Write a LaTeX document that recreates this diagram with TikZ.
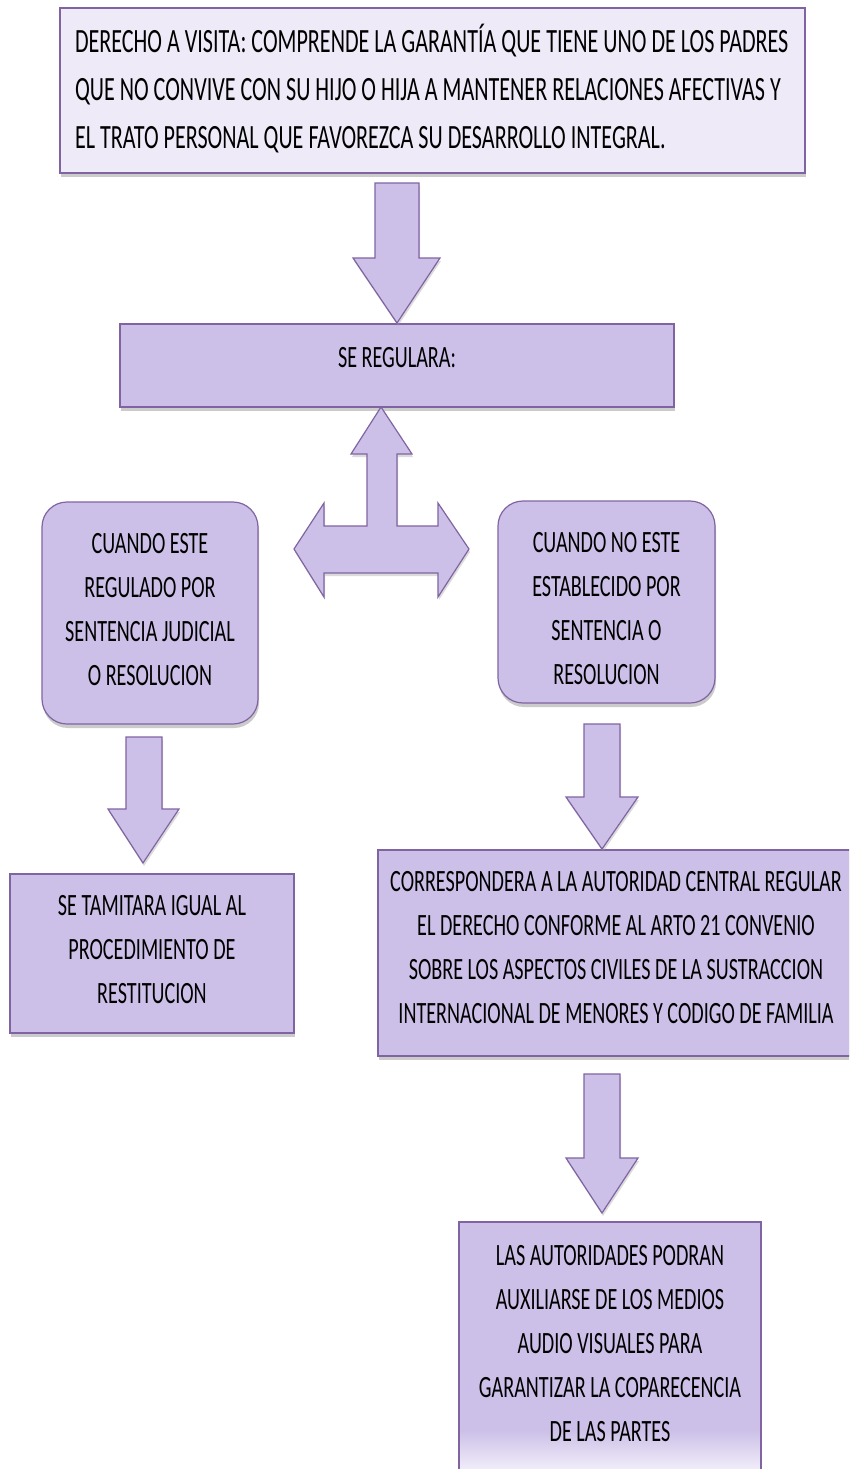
\documentclass[tikz,border=0pt]{standalone}
\usepackage{fontspec}
\setmainfont[FakeStretch=0.65]{Carlito}
\usetikzlibrary{shadows}

\definecolor{boxline}{RGB}{128,100,162}
\definecolor{boxfill}{RGB}{204,192,232}
\definecolor{topfill}{RGB}{239,234,248}
\colorlet{fadefill}{topfill!50!white}
\pgfdeclareverticalshading{boxfade}{100bp}{color(0bp)=(fadefill); color(25bp)=(fadefill);
    color(34bp)=(boxfill); color(100bp)=(boxfill)}

\begin{document}
\begin{tikzpicture}[x=1pt, y=-1pt]
        \tikzstyle{plain-box}=[draw=boxline, line width=1.2pt, fill=boxfill, inner sep=0pt, align=flush center,
            font=\fontsize{31}{44}\selectfont,
            drop shadow={shadow xshift=1pt, shadow yshift=-4pt, fill=black!45, opacity=.45}]
        \tikzstyle{round-box}=[plain-box, rounded corners=25pt]
        \tikzstyle{head-box}=[plain-box, fill=topfill, align=flush left, font=\fontsize{34}{48}\selectfont]
        \tikzstyle{block-arrow}=[draw=boxline, line width=1.2pt, fill=boxfill, line join=miter,
            drop shadow={shadow xshift=1pt, shadow yshift=-3pt, fill=black!40, opacity=.35}]

        \clip (0, 0) rectangle (849, 1469);
        \fill[white] (0, 0) rectangle (849, 1469);

        % \draw (0, 0) grid[step=100] (849, 1469);
        \node[head-box, minimum width=745, minimum height=165, text width=715, text depth=104] (visita) at (432.5, 90.5)
        {DERECHO A VISITA: COMPRENDE LA GARANTÍA QUE TIENE UNO DE LOS PADRES\\
         QUE NO CONVIVE CON SU HIJO O HIJA A MANTENER RELACIONES AFECTIVAS Y\\
         EL TRATO PERSONAL QUE FAVOREZCA SU DESARROLLO INTEGRAL.};
        \node[plain-box, minimum width=554, minimum height=83, text depth=16] (regulara) at (397, 365.5)
        {SE REGULARA:};
        \node[round-box, minimum width=216, minimum height=222, text width=210, text depth=139] (regulado) at (150, 613)
        {CUANDO ESTE\\ REGULADO POR\\ SENTENCIA JUDICIAL\\ O RESOLUCION};
        \node[round-box, minimum width=217, minimum height=202, text width=210, text depth=119] (noregulado) at (606.5, 602)
        {CUANDO NO ESTE\\ ESTABLECIDO POR\\ SENTENCIA O\\ RESOLUCION};
        \node[plain-box, minimum width=284, minimum height=159, text width=278, text depth=96] (tramite) at (152, 953.5)
        {SE TAMITARA IGUAL AL\\ PROCEDIMIENTO DE\\ RESTITUCION};
        \node[plain-box, minimum width=476, minimum height=206, text width=470, text depth=143] (autoridad) at (616, 953)
        {CORRESPONDERA A LA AUTORIDAD CENTRAL REGULAR\\ EL DERECHO CONFORME AL ARTO 21 CONVENIO\\
         SOBRE LOS ASPECTOS CIVILES DE LA SUSTRACCION\\ INTERNACIONAL DE MENORES Y CODIGO DE FAMILIA};
        \node[plain-box, shade, shading=boxfade, minimum width=302, minimum height=254, text width=296, text depth=187]
        (medios) at (610, 1349)
        {LAS AUTORIDADES PODRAN\\ AUXILIARSE DE LOS MEDIOS\\ AUDIO VISUALES PARA\\
         GARANTIZAR LA COPARECENCIA\\ DE LAS PARTES};

        % block arrows
        \draw[block-arrow] (375, 183) -- (419, 183) -- (419, 258) -- (440, 258) -- (397, 323)
        -- (353, 258) -- (375, 258) -- cycle;
        \draw[block-arrow] (367, 454) -- (351, 454) -- (381, 407) -- (412, 454) -- (397, 454)
        -- (397, 526) -- (438, 526) -- (438, 503) -- (469, 549) -- (438, 597) -- (438, 573)
        -- (324, 573) -- (324, 597) -- (294, 549) -- (324, 503) -- (324, 526) -- (367, 526) -- cycle;
        \draw[block-arrow] (126, 737) -- (162, 737) -- (162, 809) -- (179, 809) -- (143, 863)
        -- (108, 809) -- (126, 809) -- cycle;
        \draw[block-arrow] (584, 724) -- (620, 724) -- (620, 797) -- (638, 797) -- (602, 849)
        -- (566, 797) -- (584, 797) -- cycle;
        \draw[block-arrow] (584, 1074) -- (620, 1074) -- (620, 1158) -- (638, 1158) -- (602, 1213)
        -- (566, 1158) -- (584, 1158) -- cycle;
    \end{tikzpicture}
\end{document}
